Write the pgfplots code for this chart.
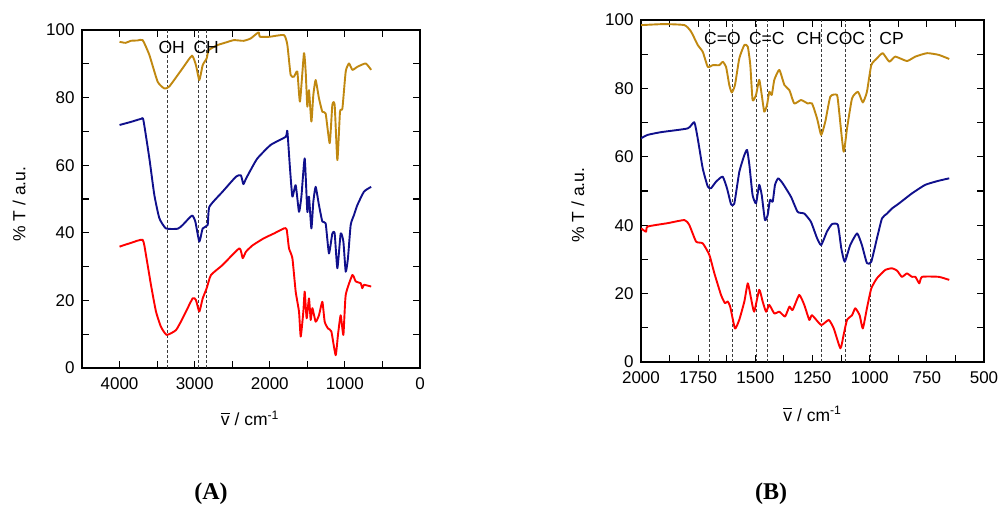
\documentclass[border=0pt]{standalone}
\usepackage{fontspec}
\setmainfont{Liberation Sans}
\newfontfamily\capfont{Liberation Serif}
\usepackage{pgfplots}
\pgfplotsset{compat=1.18}
\definecolor{cgold}{RGB}{192,136,16}
\definecolor{cnavy}{RGB}{16,16,140}
\definecolor{cred}{RGB}{255,0,0}
\definecolor{cdash}{RGB}{60,60,60}

\pgfplotsset{
  ftir/.style={
    scale only axis,
    x dir=reverse,
    ymin=0, ymax=100,
    ytick={0,20,...,100},
    minor x tick num=1,
    minor y tick num=1,
    tick align=inside,
    tick pos=both,
    major tick length=7pt,
    minor tick length=7pt,
    axis line style={line width=1.1pt},
    every tick/.append style={black, line width=1.1pt},
    tick label style={font=\fontsize{17}{20}\selectfont},
    /pgf/number format/assume math mode=true,
    /pgf/number format/1000 sep={},
    xticklabel style={yshift=-6pt},
    yticklabel style={xshift=-4pt},
    label style={font=\fontsize{17.5}{20}\selectfont},
    every axis plot/.append style={line width=1.9pt, line join=round, smooth, tension=0.3},
    ylabel={\% T / a.u.},
    xlabel={$\overline{\vphantom{T}\mbox{v}}$ / cm\textsuperscript{-1}},
  },
  mark/.style={cdash, dashed, line width=0.8pt, dash pattern=on 3pt off 2pt, sharp plot},
}

\begin{document}
\begin{tikzpicture}[x=1pt,y=1pt]
\useasboundingbox (0,0) rectangle (999,508);

% ---------- (A) full range
\begin{axis}[ftir,
  at={(82pt,140pt)}, anchor=south west,
  width=338pt, height=338pt,
  xmin=0, xmax=4500,
  xtick={0,1000,...,4000},
  ylabel style={at={(axis description cs:-0.186,0.485)}, anchor=center},
  xlabel style={at={(axis description cs:0.497,-0.150)}, anchor=center},
]
\addplot[mark] coordinates {(3360,0) (3360,100)};
\addplot[mark] coordinates {(2955,0) (2955,100)};
\addplot[mark] coordinates {(2840,0) (2840,100)};

\addplot[cgold] coordinates {
(4000,96.5) (3920,96.2) (3850,96.8) (3760,96.9) (3692,97) (3603,92.6) (3493,84.7)
(3404,82.7) (3337,83.3) (3160,88.7) (3036,92.4) (2983,89.6) (2938,85.2) (2893,89.6)
(2840,91.6) (2814,94) (2700,95.5) (2600,96.2) (2479,97) (2350,96.8) (2254,97.5)
(2150,99.3) (2130,98) (2000,98) (1811,98.5) (1766,95.6) (1722,86.7) (1677,86.2)
(1633,87.7) (1598,78.8) (1545,93.1) (1522,87.7) (1500,77.3) (1478,82.2) (1446,72.9)
(1420,80.8) (1389,85.2) (1345,79.8) (1300,75.8) (1256,75.3) (1202,66.5) (1167,77.8)
(1136,77.8) (1100,61.5) (1065,75.8) (1033,76.8) (989,87.7) (945,90.1) (900,88.2)
(834,89.1) (723,90.1) (650,88.2)
};
\addplot[cnavy] coordinates {
(4000,71.9) (3850,72.8) (3715,73.7) (3683,73.4) (3603,62) (3537,51.2) (3470,44.3)
(3382,41.3) (3226,41.2) (3160,42.3) (3036,45.1) (2991,43.3) (2938,37.4) (2893,41.3)
(2827,42.3) (2804,47.7) (2627,52.2) (2450,56.6) (2384,57) (2352,54.4) (2317,56)
(2254,58.6) (2165,62) (1988,66) (1788,68.4) (1766,70.1) (1731,59.1) (1699,50.7)
(1655,54.1) (1611,46.2) (1579,50.7) (1535,62) (1500,46.2) (1478,50.7) (1446,41.3)
(1420,49.2) (1389,53.6) (1345,48.2) (1300,43.3) (1256,42.8) (1212,33.9) (1167,39.8)
(1136,39.8) (1100,29.5) (1056,39.8) (1020,37.4) (989,28.5) (959,32.5) (923,42.3)
(878,45.3) (834,48.2) (745,52.2) (650,53.6)
};
\addplot[cred] coordinates {
(4000,35.9) (3850,37) (3692,37.9) (3648,33.4) (3582,24.6) (3515,16.7) (3449,12.2)
(3373,9.8) (3249,11.2) (3160,14.7) (3027,20.6) (2983,20.1) (2938,16.7) (2893,20.6)
(2840,23.6) (2783,27.5) (2627,30.5) (2405,35.4) (2361,32.5) (2317,34.4) (2228,36.3)
(2077,38.4) (1944,39.8) (1811,41.3) (1775,41) (1744,35.4) (1699,32.5) (1655,22.6)
(1611,16.7) (1588,9.3) (1553,16.7) (1535,22.6) (1509,14.7) (1478,20.6) (1455,14.2)
(1433,17.7) (1389,13.7) (1345,15.6) (1300,19.6) (1269,13.7) (1225,11.7) (1180,10.8)
(1123,3.8) (1092,9.8) (1056,15.6) (1020,9.8) (989,21.6) (900,27.5) (856,25.6)
(790,25.1) (768,23.6) (745,24.6) (650,24.1)
};
\node[font=\fontsize{17.5}{20}\selectfont] at (axis cs:3306,94.7) {OH};
\node[font=\fontsize{17.5}{20}\selectfont] at (axis cs:2847,94.7) {CH};
\end{axis}

% ---------- (B) fingerprint region
\begin{axis}[ftir,
  at={(641pt,146pt)}, anchor=south west,
  width=343pt, height=342pt,
  xmin=500, xmax=2000,
  xtick={500,750,...,2000},
  ylabel style={at={(axis description cs:-0.184,0.459)}, anchor=center},
  xlabel style={at={(axis description cs:0.5,-0.152)}, anchor=center},
]
\addplot[mark] coordinates {(1700,0) (1700,100)};
\addplot[mark] coordinates {(1600,0) (1600,100)};
\addplot[mark] coordinates {(1497,0) (1497,100)};
\addplot[mark] coordinates {(1448,0) (1448,100)};
\addplot[mark] coordinates {(1213,0) (1213,100)};
\addplot[mark] coordinates {(1107,0) (1107,100)};
\addplot[mark] coordinates {(995,0) (995,100)};

\addplot[cgold] coordinates {
(2000,98.5) (1900,98.8) (1810,98.5) (1781,96.6) (1752,92.7) (1730,90.7) (1708,86.3)
(1686,86.8) (1657,86.8) (1643,87.8) (1628,86.3) (1614,81) (1603,78.8) (1589,81)
(1570,88.8) (1548,92.7) (1533,92.2) (1522,86.8) (1512,76.6) (1497,78.1) (1483,82.5)
(1472,78.1) (1461,73.2) (1449,75.1) (1439,79) (1428,78.1) (1417,82.5) (1395,85.4)
(1373,81) (1351,79.5) (1330,75.6) (1300,76.6) (1271,75.6) (1252,75.6) (1230,71.2)
(1212,66.4) (1194,70.3) (1172,77.6) (1143,78.1) (1135,74.2) (1114,61.5) (1099,68.3)
(1077,77.1) (1051,79) (1030,75.9) (1012,79) (993,86.8) (968,88.8) (943,90.3)
(914,87.8) (888,89.3) (837,88) (800,89.3) (749,90.3) (698,89.8) (652,88.6)
};
\addplot[cnavy] coordinates {
(2000,65.4) (1971,66.4) (1913,67.2) (1796,68.3) (1767,70.1) (1752,65.4) (1730,56.6)
(1708,51.3) (1694,50.8) (1672,52.7) (1643,54.2) (1624,50.8) (1606,46.1) (1592,46.3)
(1570,55.6) (1548,60.5) (1536,62) (1526,57.6) (1512,48.8) (1497,46.4) (1483,51.8)
(1472,48.8) (1458,41.5) (1446,43) (1436,47.4) (1424,46.9) (1414,51.8) (1400,53.7)
(1380,52.2) (1344,48.3) (1315,43.9) (1286,43.4) (1257,41) (1230,36.2) (1212,34.2)
(1187,38.1) (1165,40.3) (1139,40.1) (1124,33.2) (1109,29.3) (1085,34.2) (1055,37.6)
(1034,34.2) (1012,28.9) (993,29.3) (968,36.2) (946,42) (924,43.4) (902,44.9)
(873,46.3) (815,49.3) (757,51.8) (698,53) (652,53.7)
};
\addplot[cred] coordinates {
(2000,39.1) (1978,38.1) (1971,39.6) (1883,40.6) (1810,41.5) (1789,40.1) (1759,35.2)
(1730,34.7) (1701,31.3) (1679,25.9) (1650,19.6) (1633,17.2) (1621,17.7) (1610,16.2)
(1589,9.8) (1570,12.4) (1548,17.7) (1533,23) (1519,18.7) (1505,14.7) (1483,21.1)
(1468,17.7) (1453,14.7) (1439,16.7) (1417,14.2) (1395,14.7) (1370,13.3) (1351,16.2)
(1337,15.2) (1308,19.6) (1286,16.7) (1264,12.3) (1252,13.7) (1212,10.8) (1179,12.3)
(1157,9.8) (1128,4) (1114,7.9) (1099,12.3) (1077,13.7) (1063,15.7) (1044,13.7)
(1030,9.8) (1012,15.7) (993,21.5) (968,24.5) (932,26.9) (902,27.4) (880,26.7)
(859,24.9) (837,25.9) (815,24.9) (800,24.9) (783,23) (771,24.9) (698,24.9) (652,24)
};
\node[font=\fontsize{17.5}{20}\selectfont] at (axis cs:1644,94.7) {C=O};
\node[font=\fontsize{17.5}{20}\selectfont] at (axis cs:1450,94.7) {C=C};
\node[font=\fontsize{17.5}{20}\selectfont] at (axis cs:1265,94.7) {CH};
\node[font=\fontsize{17.5}{20}\selectfont] at (axis cs:1105,94.7) {COC};
\node[font=\fontsize{17.5}{20}\selectfont] at (axis cs:904,94.7) {CP};
\end{axis}

\node[font=\capfont\bfseries\fontsize{24}{28}\selectfont] at (211pt,14pt) {(A)};
\node[font=\capfont\bfseries\fontsize{24}{28}\selectfont] at (771pt,14pt) {(B)};
\end{tikzpicture}
\end{document}
